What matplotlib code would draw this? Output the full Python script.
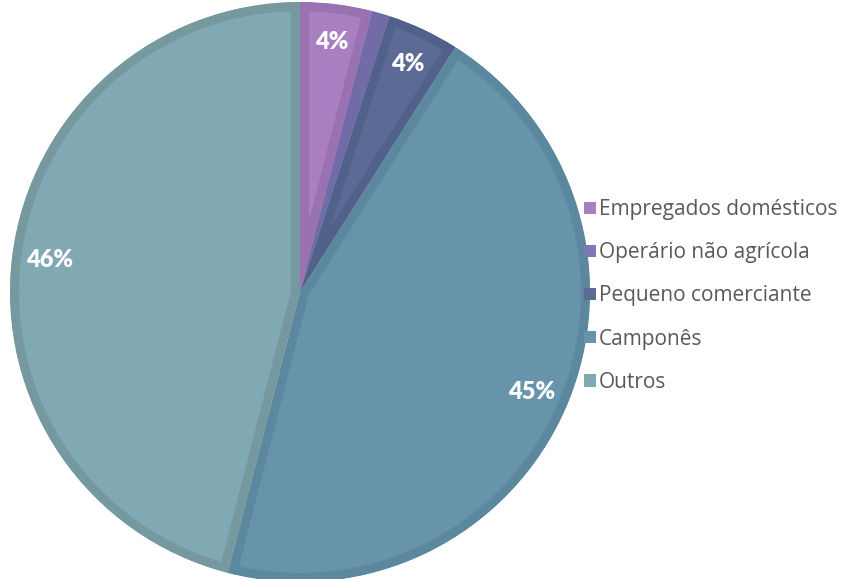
import matplotlib.pyplot as plt
from matplotlib.patches import Patch

categories = ['Empregados domésticos', 'Operário não agrícola',
              'Pequeno comerciante', 'Camponês', 'Outros']
shares = [4, 1, 4, 45, 46]

face_colors = ['#a97fc1', '#7d78b6', '#5b6b95', '#6794ab', '#80a9b3']
edge_colors = ['#9b72b1', '#716ca8', '#51618a', '#5b889f', '#75999f']

plt.rcParams['font.family'] = ['Lato', 'DejaVu Sans']

fig = plt.figure(figsize=(8.46, 5.79), dpi=100)
ax = fig.add_axes([10 / 846, -3 / 579, 580 / 846, 580 / 579])

wedges, texts, autotexts = ax.pie(
    shares, colors=face_colors, startangle=90, counterclock=False,
    autopct=lambda p: f'{p:.0f}%' if p >= 2 else '',
    pctdistance=0.87, textprops=dict(color='white', fontsize=17, fontweight='heavy'))

# inner stroke: thick darker edge clipped to the wedge itself
for w, ec in zip(wedges, edge_colors):
    w.set_edgecolor(ec)
    w.set_linewidth(13)
    w.set_clip_on(True)
    w.set_clip_path(w)

ax.set_xlim(-1, 1)
ax.set_ylim(-1, 1)
ax.set_aspect('equal')
ax.axis('off')

handles = [Patch(facecolor=c, edgecolor='none') for c in face_colors]
fig.legend(handles, categories, loc='upper left', bbox_to_anchor=(576 / 846, 1 - 191 / 579),
           frameon=False, prop=dict(family=['Open Sans', 'DejaVu Sans'], size=15),
           handlelength=0.55, handleheight=0.55, handletextpad=0.15,
           labelspacing=1.06, labelcolor='#595959', borderaxespad=0)

fig.savefig('out.png', dpi=100)
